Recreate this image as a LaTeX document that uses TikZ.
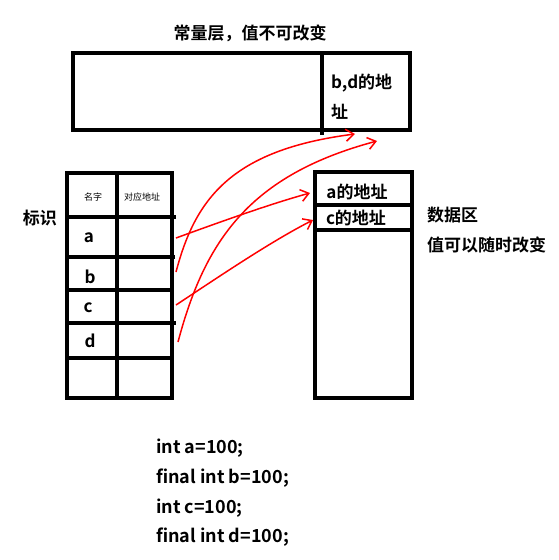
\documentclass[tikz,border=0pt]{standalone}
\usepackage{fontspec}
\setmainfont{Noto Sans CJK SC}[BoldFont={Noto Sans CJK SC Bold}]
\usetikzlibrary{arrows.meta}
\tikzset{
  box/.style={line width=3.5pt},
  ptr/.style={draw=red, line width=1.5pt, -{Straight Barb[length=8pt,width=12pt]}},
  big/.style={font=\fontsize{17}{20}\selectfont\bfseries, inner sep=0pt},
  code/.style={font=\fontsize{18}{20}\selectfont\bfseries, inner sep=0pt, anchor=west},
  tiny/.style={font=\fontsize{9}{10}\selectfont, inner sep=0pt},
}
\begin{document}
\begin{tikzpicture}[x=1pt,y=-1pt]
                \useasboundingbox (0,0) rectangle (558,560);
                \node [big] (title) at (250,33) {常量层，值不可改变};
                \draw [box] (73,53) rectangle (410,130);
                \draw [box] (322,53) -- (322,135);
                \node [big, anchor=west] (bd1) at (331,83) {b,d的地};
                \node [big, anchor=west] (bd2) at (331,112) {址};
                \coordinate (bdend) at (355,134);
                \coordinate (ddend) at (377,141);
                \draw [box] (67,173) rectangle (172,398);
                \draw [box] (117,173) -- (117,400);
                \draw [box] (67,217) -- (176,217);
                \draw [box] (67,257) -- (175,257);
                \draw [box] (67,290) -- (172,290);
                \draw [box] (65,323) -- (176,323);
                \draw [box] (67,358) -- (172,358);
                \node [tiny] (name) at (93,197) {名字};
                \node [tiny] (addr) at (142,197) {对应地址};
                \node [big] (ident) at (40,218) {标识};
                \node [big] (a) at (89,238) {a};
                \node [big] (b) at (90,277) {b};
                \node [big] (c) at (88,308) {c};
                \node [big] (d) at (90,341) {d};
                \coordinate (pa) at (176,238);
                \coordinate (pb) at (176,272);
                \coordinate (pc) at (176,305);
                \coordinate (pd) at (178,342);
                \draw [box] (315,172) rectangle (412,398);
                \draw [box] (315,205) -- (412,205);
                \draw [box] (315,230) -- (414,230);
                \node [big] (aaddr) at (357,192) {a的地址};
                \node [big] (caddr) at (356,218) {c的地址};
                \node [big, anchor=west] (data) at (427,215) {数据区};
                \node [big, anchor=west] (vary) at (427,245) {值可以随时改变};
                \draw [ptr] (pa) .. controls (220,222) and (270,204) .. (310,193);
                \draw [ptr] (pb) .. controls (195,200) and (230,150) .. (bdend);
                \draw [ptr] (pc) .. controls (220,276) and (270,242) .. (313,220);
                \draw [ptr] (pd) .. controls (205,240) and (250,175) .. (ddend);
                \node [code] (l1) at (156,448) {int a=100;};
                \node [code] (l2) at (156,478) {final int b=100;};
                \node [code] (l3) at (156,508) {int c=100;};
                \node [code] (l4) at (156,537) {final int d=100;};
            \end{tikzpicture}
\end{document}
